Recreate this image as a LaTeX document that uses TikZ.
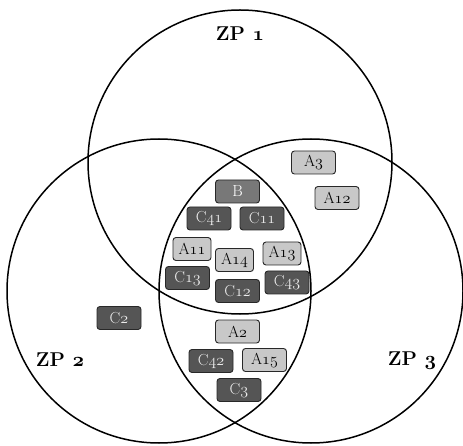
\RequirePackage{fix-cm}
\documentclass[tikz,border=0pt]{standalone}
\usepackage{fontspec}
\setmainfont{Latin Modern Roman}
\definecolor{dkfill}{RGB}{85,85,85}
\definecolor{ltfill}{RGB}{200,200,200}
\definecolor{bfill}{RGB}{120,120,120}
\definecolor{dktext}{RGB}{235,235,235}
\definecolor{boxline}{RGB}{40,40,40}
\makeatletter
\newcommand{\osn}[1]{{\fontencoding{OML}\fontfamily{cmm}\fontshape{it}\selectfont #1}}
\makeatother
\tikzset{
  circ/.style={draw=black, line width=1.5pt},
  tag/.style={draw=boxline, line width=0.9pt, rounded corners=3pt, inner sep=0pt,
    minimum width=44pt, minimum height=23pt,
    font=\fontsize{16}{16}\selectfont},
  dk/.style={tag, fill=dkfill, text=dktext},
  lt/.style={tag, fill=ltfill, text=black},
  bbox/.style={tag, fill=bfill, text=white},
  narrow/.style={minimum width=38pt},
  zp/.style={font=\fontsize{20}{20}\selectfont\bfseries, inner sep=0pt}
}
\begin{document}
\begin{tikzpicture}[x=1pt,y=-1pt]
\useasboundingbox (0,0) rectangle (463,446);
\draw[circ] (240,162) circle[radius=152pt];
\draw[circ] (159,291) circle[radius=152pt];
\draw[circ] (311,291) circle[radius=152pt];
\node[zp] (zp1) at (240,34) {ZP \osn{1}};
\node[zp] (zp2) at (60,360) {ZP \osn{2}};
\node[zp] (zp3) at (412,361) {ZP \osn{3}};
\node[bbox] (b) at (237.5,191.5) {B};
\node[dk] (c41) at (209,218.5) {C\osn{41}};
\node[dk] (c11) at (262,218.5) {C\osn{11}};
\node[lt,narrow] (a11) at (192,249) {A\osn{11}};
\node[lt,narrow] (a14) at (234.5,260) {A\osn{14}};
\node[lt,narrow] (a13) at (282,253.5) {A\osn{13}};
\node[dk] (c13) at (187.5,278) {C\osn{13}};
\node[dk] (c12) at (237.5,291) {C\osn{12}};
\node[dk] (c43) at (287,282.5) {C\osn{43}};
\node[lt] (a2) at (237.5,331.5) {A\osn{2}};
\node[dk] (c42) at (211,361) {C\osn{42}};
\node[lt] (a15) at (264.5,360) {A\osn{15}};
\node[dk] (c3) at (239,390) {C\osn{3}};
\node[lt] (a3) at (313.5,162.5) {A\osn{3}};
\node[lt] (a12) at (337,198) {A\osn{12}};
\node[dk] (c2) at (119,318) {C\osn{2}};
\end{tikzpicture}
\end{document}
